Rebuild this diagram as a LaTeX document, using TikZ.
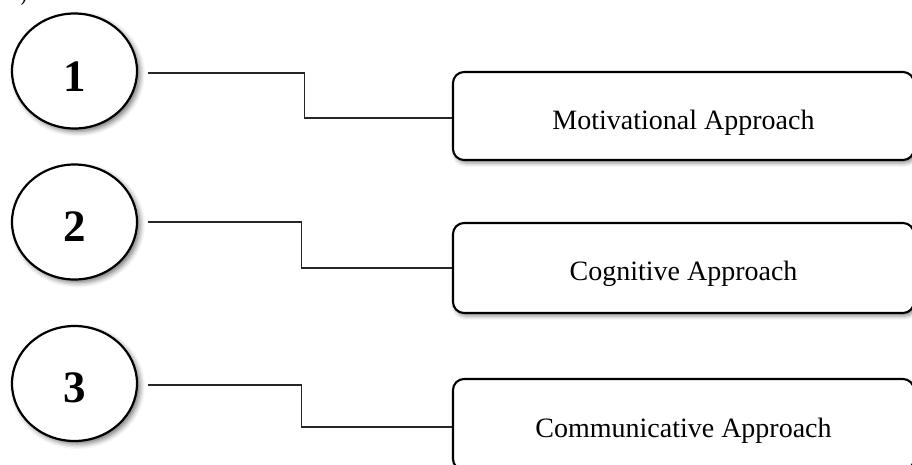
\documentclass[tikz,border=0pt]{standalone}
\usepackage{fontspec}
\setmainfont{Liberation Serif}
\usetikzlibrary{shapes.geometric,shadows.blur}
\tikzset{
  numcirc/.style={ellipse, draw=black, line width=2.2pt, fill=white, minimum width=125pt, minimum height=115pt, inner sep=0pt,
    blur shadow={shadow xshift=3pt, shadow yshift=-3pt, shadow blur radius=5pt, shadow opacity=55},
    font=\fontsize{45}{50}\selectfont\bfseries},
  apbox/.style={rectangle, rounded corners=11pt, draw=black, line width=2.1pt, fill=white, inner sep=0pt,
    blur shadow={shadow xshift=2pt, shadow yshift=-3pt, shadow blur radius=4pt, shadow opacity=45},
    font=\fontsize{28}{32}\selectfont},
  link/.style={draw=black!85, line width=1.1pt}
}
\newcommand{\dn}[2]{\raisebox{-#1pt}[\height][0pt]{#2}}
\begin{document}
\begin{tikzpicture}[x=1pt,y=-1pt]
\useasboundingbox (0,0) rectangle (912,464);
\node[font=\fontsize{25}{30}\selectfont, rotate=10] (frag) at (23,-6) {)};
\node[numcirc] (c1) at (74.5,71) {\dn{6}{1}};
\node[numcirc] (c2) at (74.5,222) {\dn{5}{2}};
\node[numcirc] (c3) at (74.5,383.5) {\dn{4}{3}};
\node[apbox, minimum width=461pt, minimum height=88pt] (b1) at (683.5,116) {\dn{4}{Motivational Approach}};
\node[apbox, minimum width=461pt, minimum height=90pt] (b2) at (683.5,268) {\dn{3}{Cognitive Approach}};
\node[apbox, minimum width=461pt, minimum height=91pt] (b3) at (683.5,424.5) {\dn{3}{Communicative Approach}};
\draw[link] ([xshift=10pt,yshift=-2pt]c1.east) -- ([xshift=166pt,yshift=-2pt]c1.east) |- ([yshift=-2pt]b1.west);
\draw[link] ([xshift=10pt]c2.east) -- ([xshift=163pt]c2.east) |- (b2.west);
\draw[link] ([xshift=10pt,yshift=-1.5pt]c3.east) -- ([xshift=163pt,yshift=-1.5pt]c3.east) |- ([yshift=-2.5pt]b3.west);
\end{tikzpicture}
\end{document}
